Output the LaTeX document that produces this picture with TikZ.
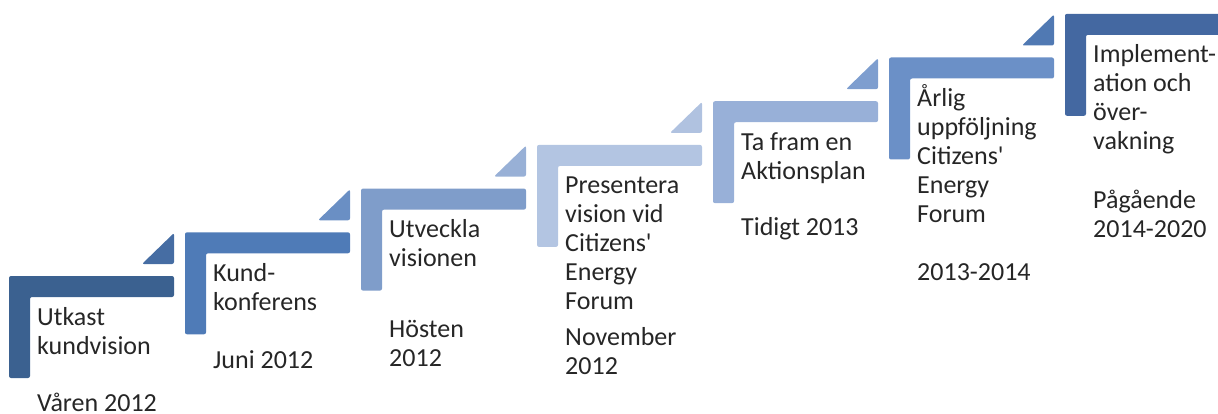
\documentclass[tikz,border=0pt]{standalone}
\usepackage{fontspec}
\setmainfont{Carlito}[Ligatures=TeXOff]

% step colours (L-shaped frames) and their corner triangles
\definecolor{s1}{HTML}{3B6190}
\definecolor{s2}{HTML}{4F7BB7}
\definecolor{s3}{HTML}{7F9DCA}
\definecolor{s4}{HTML}{B3C5E2}
\definecolor{s5}{HTML}{98B0D8}
\definecolor{s6}{HTML}{6B90C7}
\definecolor{s7}{HTML}{4468A1}
\definecolor{t1}{HTML}{466DA3}
\definecolor{t2}{HTML}{6A8FC4}
\definecolor{t3}{HTML}{98B0D6}
\definecolor{t4}{HTML}{B0C2E0}
\definecolor{t5}{HTML}{7E9ECF}
\definecolor{t6}{HTML}{5079B3}

\newcommand\steptext[1]{\begin{tabular}[t]{@{}l@{}}#1\end{tabular}}

\begin{document}
\begin{tikzpicture}[x=1pt,y=-1pt,
  frame/.style={rounded corners=2pt},
  label/.style={anchor=base west,inner sep=0pt,
    font=\fontsize{26}{29}\selectfont,text=black!85}]
\useasboundingbox (0,0) rectangle (1218,414);

% the staircase of L-shaped frames with their corner triangles
\begin{scope}
\clip (0,0) rectangle (1218,414);
\foreach \i/\c/\t in {1/s1/t1,2/s2/t2,3/s3/t3,4/s4/t4,5/s5/t5,6/s6/t6,7/s7/t6} {
  \pgfmathsetmacro\xa{9+176*(\i-1)}
  \pgfmathsetmacro\ya{276-43.7*(\i-1)}
  \fill[\c,frame] (\xa,\ya) -- ++(165,0) -- ++(0,21) -- ++(-144,0)
        -- ++(0,81) -- ++(-21,0) -- cycle;
  \ifnum\i<7
    \fill[\t,frame] (\xa+165,\ya-12) -- (\xa+165,\ya-43)
          -- (\xa+133,\ya-12) -- cycle;
  \fi
}
\end{scope}

% step descriptions
\node[label] (d1) at (37,325)    {\steptext{Utkast\\kundvision}};
\node[label] (d2) at (213,281.3) {\steptext{Kund-\\konferens}};
\node[label] (d3) at (389,237.6) {\steptext{Utveckla\\visionen}};
\node[label] (d4) at (565,193.9) {\steptext{Presentera\\vision vid\\Citizens'\\Energy\\Forum}};
\node[label] (d5) at (741,150.2) {\steptext{Ta fram en\\Aktionsplan}};
\node[label] (d6) at (917,106.5) {\steptext{Årlig\\uppföljning\\Citizens'\\Energy\\Forum}};
\node[label] (d7) at (1093,62.8) {\steptext{Implement-\\ation och\\över-\\vakning}};

% dates
\node[label] (w1) at (37,411)   {Våren 2012};
\node[label] (w2) at (213,368)  {Juni 2012};
\node[label] (w3) at (389,337)  {\steptext{Hösten\\2012}};
\node[label] (w4) at (565,345)  {\steptext{November\\2012}};
\node[label] (w5) at (741,236)  {Tidigt 2013};
\node[label] (w6) at (917,280)  {2013-2014};
\node[label] (w7) at (1093,208) {\steptext{Pågående\\2014-2020}};
\end{tikzpicture}
\end{document}
